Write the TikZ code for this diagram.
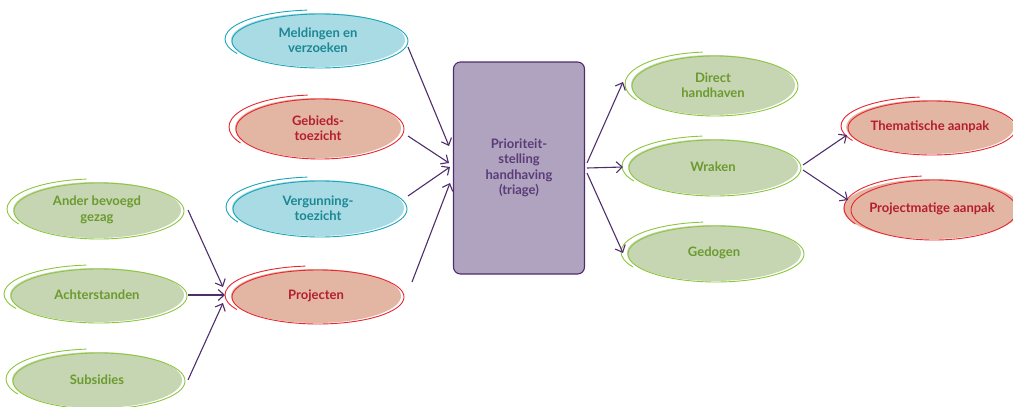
\documentclass[tikz,border=0pt]{standalone}
\usepackage{fontspec}
\setmainfont{Lato}
\usetikzlibrary{shapes.geometric,arrows.meta,calc}
\definecolor{gfill}{HTML}{C6D5B2}
\definecolor{gline}{HTML}{8CC63E}
\definecolor{gtext}{HTML}{6B9A2E}
\definecolor{tfill}{HTML}{A8DBE3}
\definecolor{tline}{HTML}{1AA5B9}
\definecolor{ttext}{HTML}{1B8795}
\definecolor{rfill}{HTML}{E3B5A3}
\definecolor{rline}{HTML}{E82630}
\definecolor{rtext}{HTML}{B41E2C}
\definecolor{pfill}{HTML}{B0A3BF}
\definecolor{pline}{HTML}{4E2D6B}
\definecolor{ptext}{HTML}{5B3B78}
\tikzset{
  bub/.style={ellipse, inner sep=0pt, font=\fontsize{13}{15.5}\selectfont\bfseries, align=center},
  sk/.style={line width=0.9pt},
  arr/.style={draw=pline, line width=1.1pt, -{Straight Barb[length=6pt,width=11pt]}},
}
\newcommand\bub[7]{%
  \node[bub, fill=#6fill, text=#6text, minimum width=2*#4, minimum height=2*#5] (#1) at (#2,#3) {#7};
  \draw[sk, #6line] ([shift={(2,1)}]#1.center) ellipse [x radius=#4+1, y radius=#5];
  \draw[sk, #6line] ([shift={(-3,-1)}]#1.center) ++(150:{#4+3} and {#5+2}) arc [start angle=150, end angle=265, x radius=#4+3, y radius=#5+2];
}
\begin{document}
\begin{tikzpicture}[x=1pt,y=-1pt]
\useasboundingbox (0,0) rectangle (1013,407);
\bub{meld}{318}{40}{87}{27}{t}{Meldingen en\\verzoeken}
\bub{gebi}{318}{128}{83}{30}{r}{Gebieds-\\toezicht}
\bub{verg}{318}{208}{86}{28}{t}{Vergunning-\\toezicht}
\bub{proj}{316}{296}{85}{27}{r}{Projecten}
\bub{ander}{97}{210}{84}{28}{g}{Ander bevoegd\\gezag}
\bub{acht}{97}{295}{87}{27}{g}{Achterstanden}
\bub{subs}{97}{380}{85}{28}{g}{Subsidies}
\node[draw=pline, fill=pfill, line width=1.1pt, rounded corners=7pt, minimum width=131, minimum height=212,
      text=ptext, font=\fontsize{13}{15.5}\selectfont\bfseries, align=center] (box) at (519,168)
      {Prioriteit-\\stelling\\handhaving\\(triage)};
\bub{dir}{713}{85}{82}{30}{g}{Direct\\handhaven}
\bub{wrak}{713}{167}{85}{28}{g}{Wraken}
\bub{gedo}{714}{253}{87}{28}{g}{Gedogen}
\bub{them}{930}{127}{83}{27}{r}{Thematische aanpak}
\bub{pm}{932}{209}{82}{30}{r}{Projectmatige aanpak}
\draw[arr] ([shift={(90,7)}]meld.center) -- ([shift={(-70,-22)}]box.center);
\draw[arr] ([shift={(90,8)}]gebi.center) -- ([shift={(-70,-5)}]box.center);
\draw[arr] ([shift={(90,-12)}]verg.center) -- ([shift={(-69,-1)}]box.center);
\draw[arr] ([shift={(96,-14)}]proj.center) -- ([shift={(-69,15)}]box.center);
\draw[arr] ([shift={(91,0)}]ander.center) -- ([shift={(-93,-9)}]proj.center);
\draw[arr] ([shift={(91,0)}]acht.center) -- ([shift={(-91,-1)}]proj.center);
\draw[arr] ([shift={(91,0)}]subs.center) -- ([shift={(-93,7)}]proj.center);
\draw[arr] ([shift={(68,-5)}]box.center) -- ([shift={(-90,-3)}]dir.center);
\draw[arr] ([shift={(68,0)}]box.center) -- ([shift={(-90,0)}]wrak.center);
\draw[arr] ([shift={(68,5)}]box.center) -- ([shift={(-91,0)}]gedo.center);
\draw[arr] ([shift={(90,-2)}]wrak.center) -- ([shift={(-83,8)}]them.center);
\draw[arr] ([shift={(90,3)}]wrak.center) -- ([shift={(-84,-9)}]pm.center);
\end{tikzpicture}
\end{document}
